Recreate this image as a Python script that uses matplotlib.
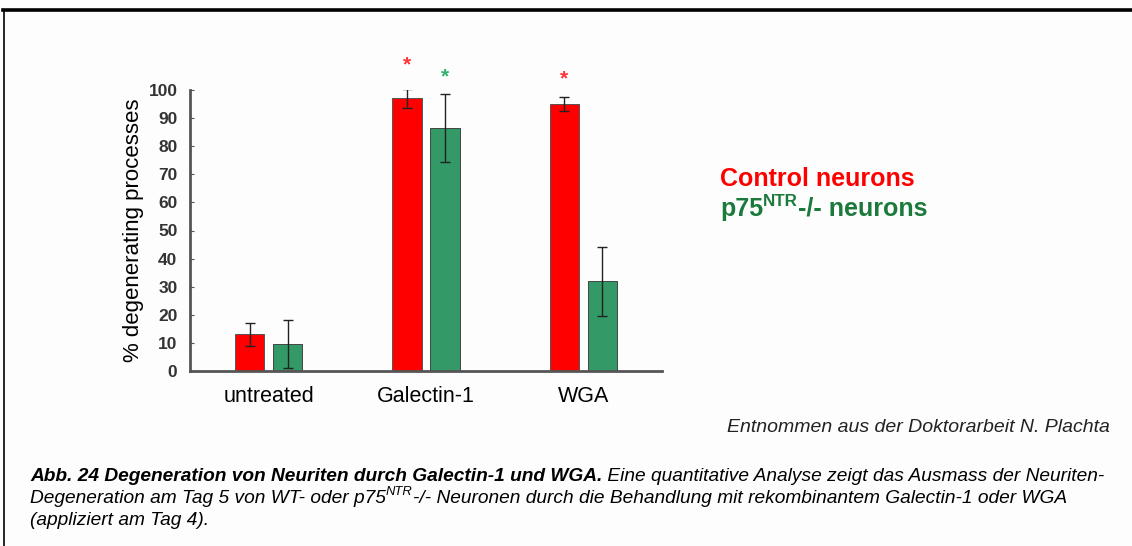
import numpy as np
import matplotlib
matplotlib.use("Agg")
import matplotlib.pyplot as plt
from matplotlib.transforms import IdentityTransform

plt.rcParams['font.family'] = ['Liberation Sans', 'DejaVu Sans']

# Daten: % degenerierende Fortsaetze
groups = ['untreated', 'Galectin-1', 'WGA']
control = [13, 97, 95]
control_err = [4, 3.5, 2.5]
p75 = [9.5, 86.5, 32]
p75_err = [8.5, 12, 12.3]
yticks = [0, 10, 20, 30, 40, 50, 60, 70, 80, 90, 100]
# Signifikanzsterne: (Gruppe, Serie, Hoehe)
stars = [(1, 'control', 109), (1, 'p75', 104.5), (2, 'control', 104)]

RED = '#ff0000'
GREEN = '#339966'
GREEN_TXT = '#1b7a3b'

W, H = 1132, 546
fig = plt.figure(figsize=(W / 100, H / 100), dpi=100)
fig.patch.set_facecolor('#fdfdfd')

# Rahmen oben und links
fig.add_artist(plt.Line2D([3 / W, 1], [1 - 10 / H, 1 - 10 / H], color='black', lw=2.6))
fig.add_artist(plt.Line2D([3.5 / W, 3.5 / W], [0, 1 - 10 / H], color='black', lw=1.2))

ax = fig.add_axes([190 / W, (H - 371) / H, (662 - 190) / W, (371 - 90) / H])
ax.set_facecolor('none')

x = np.arange(len(groups))
bw = 0.185
off = 0.121
ax.bar(x - off, control, bw, color=RED, edgecolor='#555555', linewidth=0.7, zorder=2)
ax.bar(x + off, p75, bw, color=GREEN, edgecolor='#444444', linewidth=0.7, zorder=2)
ax.errorbar(x - off, control, yerr=control_err, fmt='none', ecolor='#222222',
            elinewidth=1, capsize=3.5, capthick=1, zorder=3)
ax.errorbar(x + off, p75, yerr=p75_err, fmt='none', ecolor='#222222',
            elinewidth=1, capsize=3.5, capthick=1, zorder=3)

for g, s, h in stars:
    xs = g - off if s == 'control' else g + off
    col = '#ff3333' if s == 'control' else '#2db36b'
    ax.text(xs, h, '*', color=col, ha='center', va='center', fontsize=15,
            fontweight='bold', clip_on=False)

ax.set_xlim(-0.5, 2.5)
ax.set_ylim(0, 100)
ax.set_yticks(yticks)
ax.set_yticklabels([str(v) for v in yticks], fontsize=12.5, fontweight='bold', color='#333333')
ax.set_xticks(x)
ax.set_xticklabels(groups, fontsize=15.5)
ax.tick_params(axis='x', length=0, pad=11)
ax.tick_params(axis='y', direction='in', length=3, width=0.8, color='#555555', pad=9)
for side in ['top', 'right']:
    ax.spines[side].set_visible(False)
for side in ['left', 'bottom']:
    ax.spines[side].set_color('#555555')
    ax.spines[side].set_linewidth(2)
ax.set_ylabel('% degenerating processes', fontsize=16, labelpad=3)

renderer = fig.canvas.get_renderer()


def runs(px, py, parts):
    """Textstuecke nebeneinander setzen; py = Grundlinie in Pixel von oben."""
    cur = px
    for txt, kw in parts:
        sup = kw.pop('sup', False)
        size = kw.get('fontsize', 12)
        dy = size * 0.55 if sup else 0
        if sup:
            kw['fontsize'] = size * 0.68
        t = fig.text(cur, H - py + dy, txt, transform=IdentityTransform(),
                     va='baseline', ha='left', **kw)
        cur = t.get_window_extent(renderer).x1
    return cur


# Legende
runs(720, 186, [('Control neurons', dict(fontsize=18, fontweight='bold', color=RED))])
runs(720, 216, [('p75', dict(fontsize=18, fontweight='bold', color=GREEN_TXT)),
                ('NTR', dict(fontsize=18, fontweight='bold', color=GREEN_TXT, sup=True)),
                ('-/- neurons', dict(fontsize=18, fontweight='bold', color=GREEN_TXT))])

fig.text(1110 / W, 1 - 432 / H, 'Entnommen aus der Doktorarbeit N. Plachta',
         ha='right', va='baseline', fontsize=14, style='italic', color='#222222')

cap = dict(fontsize=13.8, style='italic', color='black')
capb = dict(cap, fontweight='bold')
runs(30, 481, [('Abb. 24 Degeneration von Neuriten durch Galectin-1 und WGA.', dict(capb)),
               (' Eine quantitative Analyse zeigt das Ausmass der Neuriten-', dict(cap))])
runs(30, 503, [('Degeneration am Tag 5 von WT- oder p75', dict(cap)),
               ('NTR', dict(cap, sup=True)),
               ('-/- Neuronen durch die Behandlung mit rekombinantem Galectin-1 oder WGA', dict(cap))])
runs(30, 525, [('(appliziert am Tag 4).', dict(cap))])

fig.savefig('out.png', dpi=100, facecolor=fig.get_facecolor())
